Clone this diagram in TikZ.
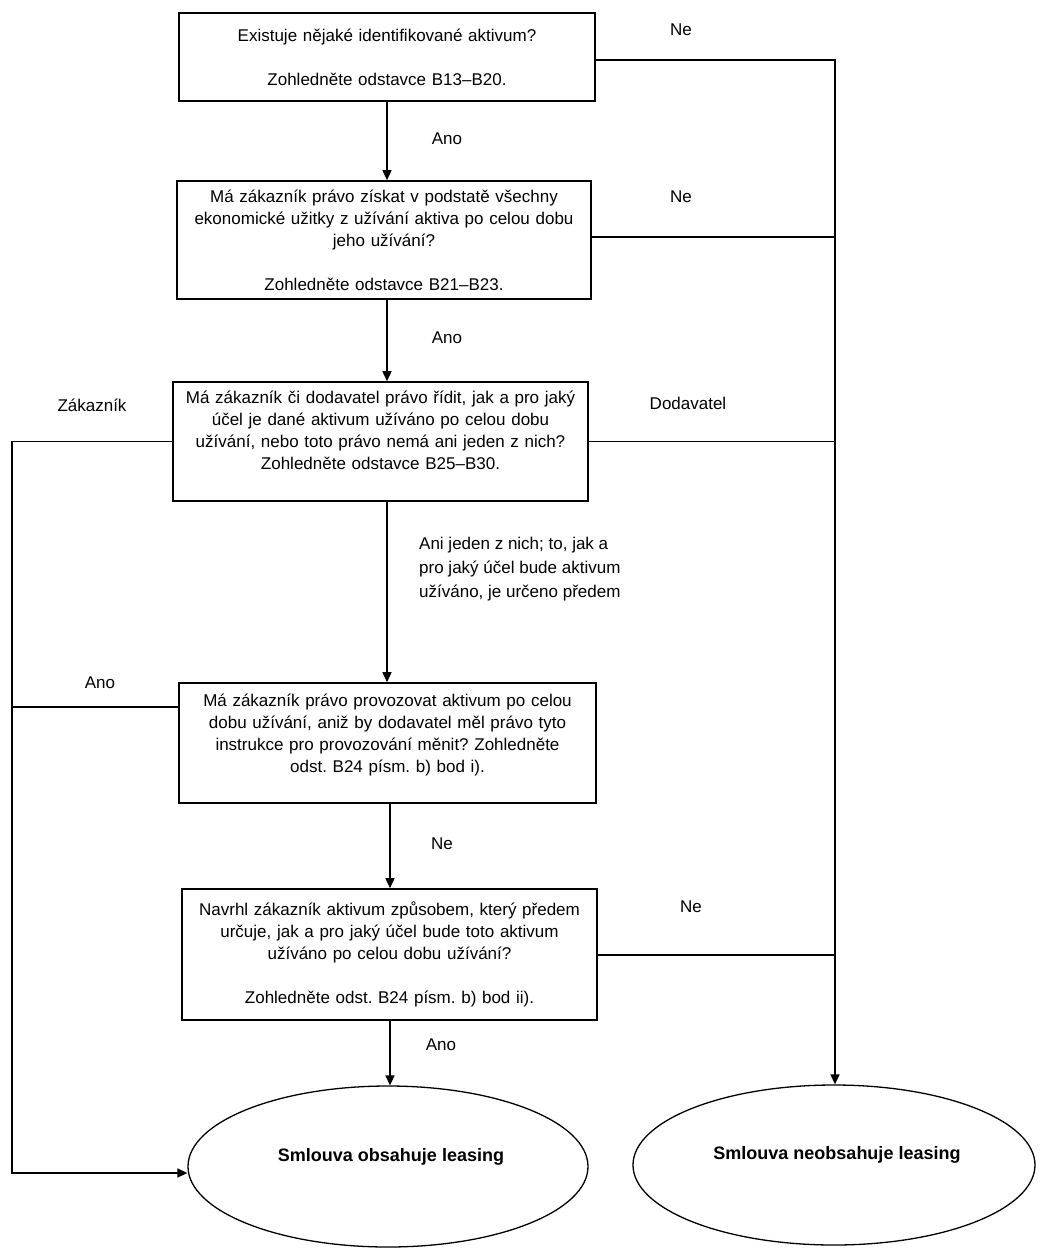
\documentclass[tikz,border=0pt]{standalone}
\usepackage{fontspec}
\setmainfont{Liberation Sans}
\frenchspacing
\usetikzlibrary{shapes.geometric,arrows.meta}
\begin{document}
\begin{tikzpicture}[x=1pt,y=-1pt,
  box/.style={draw=black, line width=1.6pt, rectangle, inner sep=0pt, align=center,
    text width=405pt, font=\fontsize{17}{22}\selectfont\frenchspacing},
  oval/.style={draw=black, line width=1.3pt, ellipse, inner sep=0pt,
    font=\bfseries\fontsize{18}{22}\selectfont},
  lab/.style={font=\fontsize{17}{24}\selectfont\frenchspacing, inner sep=0pt},
  conn/.style={draw=black, line width=1.5pt},
  arr/.style={conn, -{Triangle[length=10pt,width=9pt]}}]
\useasboundingbox (0,0) rectangle (1046,1259);
\fill[white] (0,0) rectangle (1046,1259);

% boxes
\node[box, minimum width=416pt, minimum height=88pt] (b1) at (387,57)
  {Existuje nějaké identifikované aktivum?\\ \mbox{}\\ Zohledněte odstavce B13–B20.};
\node[box, minimum width=414pt, minimum height=118pt] (b2) at (384,240)
  {Má zákazník právo získat v podstatě všechny\\ ekonomické užitky z užívání aktiva po celou dobu\\ jeho užívání?\\ \mbox{}\\ Zohledněte odstavce B21–B23.};
\node[box, minimum width=415pt, minimum height=119pt] (b3) at (380.5,441.5)
  {Má zákazník či dodavatel právo řídit, jak a pro jaký\\ účel je dané aktivum užíváno po celou dobu\\ užívání, nebo toto právo nemá ani jeden z nich?\\ Zohledněte odstavce B25–B30.\\[1.5pt] \mbox{}};
\node[box, minimum width=417pt, minimum height=120pt] (b4) at (387.5,743)
  {Má zákazník právo provozovat aktivum po celou\\ dobu užívání, aniž by dodavatel měl právo tyto\\ instrukce pro provozování měnit? Zohledněte\\ odst. B24 písm. b) bod i).\\[-1.5pt] \mbox{}};
\node[box, minimum width=415pt, minimum height=131pt] (b5) at (389.5,954.5)
  {Navrhl zákazník aktivum způsobem, který předem\\ určuje, jak a pro jaký účel bude toto aktivum\\ užíváno po celou dobu užívání?\\ \mbox{}\\ Zohledněte odst. B24 písm. b) bod ii).};

% ellipses
\node[oval, minimum width=400pt, minimum height=161pt] (e1) at (388,1166.5) {};
\node[oval, minimum width=402pt, minimum height=160pt] (e2) at (834,1165) {};
\node[font=\bfseries\fontsize{18}{22}\selectfont, inner sep=0pt] (t1) at (391,1157) {Smlouva obsahuje leasing};
\node[font=\bfseries\fontsize{18}{22}\selectfont, inner sep=0pt] (t2) at (837,1155) {Smlouva neobsahuje leasing};

% coordinates
\coordinate (r1) at (835,60);
\coordinate (r2) at (835,237);
\coordinate (r3) at (835,441.5);
\coordinate (r5) at (835,955);
\coordinate (l1) at (12,441.5);
\coordinate (l2) at (12,707);
\coordinate (l3) at (12,1173);
\coordinate (ax) at (387,0);
\coordinate (bx) at (390,0);

% vertical arrows
\draw[arr] (ax |- b1.south) -- (ax |- b2.north);
\draw[arr] (ax |- b2.south) -- (ax |- b3.north);
\draw[arr] (ax |- b3.south) -- (ax |- b4.north);
\draw[arr] (bx |- b4.south) -- (bx |- b5.north);
\draw[arr] (bx |- b5.south) -- (bx |- e1.north);

% right side
\draw[arr] (b1.east |- r1) -- (r1) -- (r1 |- e2.north);
\draw[conn] (b2.east |- r2) -- (r2);
\draw[conn] (b3.east |- r3) -- (r3);
\draw[conn] (b5.east |- r5) -- (r5);

% left side
\draw[arr] (b3.west |- l1) -- (l1) -- (l3) -- (l3 -| e1.west);
\draw[conn] (b4.west |- l2) -- (l2);

% labels
\node[lab] (n1) at (681,30) {Ne};
\node[lab] (a1) at (447,139) {Ano};
\node[lab] (n2) at (681,197) {Ne};
\node[lab] (a2) at (447,338) {Ano};
\node[lab] (zk) at (92,405) {Zákazník};
\node[lab] (dd) at (688,403) {Dodavatel};
\node[lab, anchor=north west, align=left] (aj) at (419,537)
  {Ani jeden z nich; to, jak a\\ pro jaký účel bude aktivum\\ užíváno, je určeno předem};
\node[lab] (a3) at (100,683) {Ano};
\node[lab] (n3) at (442,844) {Ne};
\node[lab] (n4) at (691,907) {Ne};
\node[lab] (a4) at (441,1045) {Ano};
\end{tikzpicture}
\end{document}
